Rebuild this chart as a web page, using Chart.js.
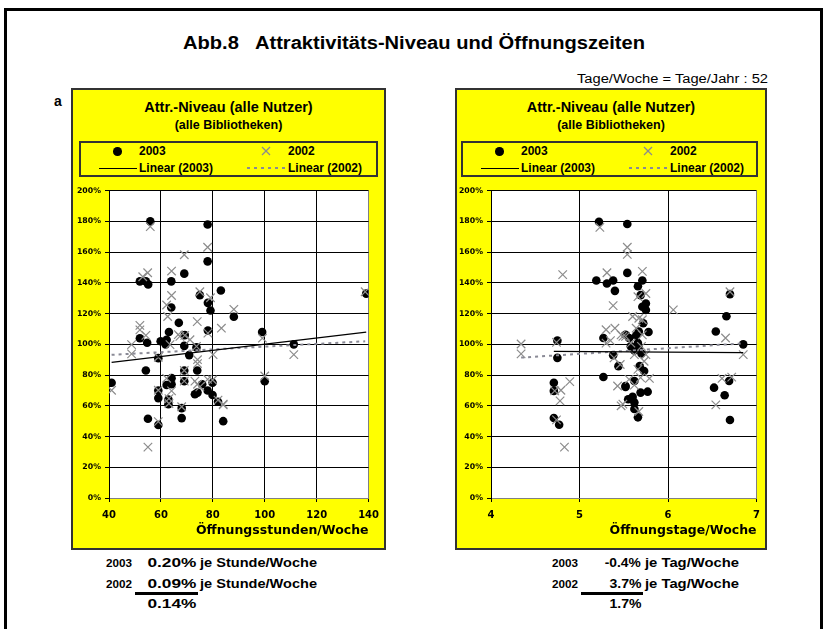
<!DOCTYPE html>
<html>
<head>
<meta charset="utf-8">
<script src="https://cdn.jsdelivr.net/npm/chart.js@4.4.1/dist/chart.umd.min.js"></script>
<style>
  body { margin:0; width:827px; height:629px; overflow:hidden; background:#fff; position:relative;
         font-family:'Liberation Sans', Arial, sans-serif; }
  .frame { position:absolute; left:4px; top:8px; width:819px; height:700px; border:3px solid #000;
           border-bottom:none; box-sizing:border-box; }
  .panel { position:absolute; top:88px; height:462px; background:#ffff00; border:2px solid #333; box-sizing:border-box; }
  canvas { position:absolute; }
  .t { position:absolute; white-space:pre; line-height:1; color:#000; }
</style>
</head>
<body>
<div class="frame"></div>
<div class="panel" style="left:71px;width:315px;"></div>
<div class="panel" style="left:455px;width:312px;"></div>
<canvas id="hoursChart" width="312" height="362" style="left:74px;top:182px;"></canvas>
<canvas id="daysChart" width="311" height="362" style="left:456px;top:182px;"></canvas>

<script>
// ---- Attraktivitäts-Niveau je Bibliothek (in %) vs. Öffnungsstunden pro Woche ----
const hours2003 = [55.9, 78, 78, 69, 51.9, 54.2, 55.1, 64, 83.1, 75, 78.1, 79.1, 64, 66.9, 63.1, 69.2, 78.1,
  51.9, 54.7, 59.9, 62.2, 61.8, 69, 73.7, 41, 54.2, 70.9, 59, 62.2, 64.1, 64.1, 59, 59, 62.9, 62.9, 69, 69,
  74, 73.1, 74.1, 75.9, 78, 79.9, 79.9, 82, 84, 68, 68, 55, 59, 99, 100, 111.2, 139.1, 88.1];
const level2003h = [180, 178, 154, 146, 141, 141, 139, 141, 135, 132, 127, 122, 124, 114, 108, 106, 109,
  104, 101, 102, 103, 100, 99, 98, 75, 83, 93, 91, 73.5, 78, 74, 70, 65, 64, 61, 83, 76,
  83, 67.5, 68.6, 74, 70, 75, 67, 62.6, 50, 52, 58.5, 51.6, 47.5, 108, 76, 100, 133, 118];

const hours2002 = [55.9, 78, 69, 54.9, 53, 64.1, 64.1, 75, 79.1, 62.2, 62.6, 74, 83.3, 51.9, 51.9, 54.2, 48.7,
  67.3, 69.2, 78.1, 71.2, 63.5, 73.7, 88.1, 99.1, 138.7, 111.2, 100, 84, 41, 48.7, 55, 59, 59, 59, 62.2,
  63.1, 63.1, 64.1, 69, 69, 68, 73.1, 74.1, 75, 74.1, 74.1, 78, 80.1, 79.9, 84, 82, 66.7];
const level2002h = [176.6, 163.2, 158.3, 146.6, 144, 147.7, 131.8, 134.2, 130.3, 125.6, 118.1, 114.8, 110.5,
  112.3, 109.4, 105.8, 99.8, 105.2, 105.8, 107.3, 103, 99.8, 98.7, 122.8, 104, 134.2, 93.3, 79.4, 60.6,
  70.1, 93.8, 33.1, 91.6, 70.1, 49.7, 77.9, 64.7, 61.5, 69.7, 83, 76.1, 59.4, 76.1, 74, 72.3, 87.5, 90,
  77.2, 93.3, 76.8, 61.1, 63.7, 106.3];

// ---- Attraktivitäts-Niveau vs. Öffnungstage pro Woche ----
const days2003 = [5.22, 5.54, 5.19, 5.31, 5.38, 5.40, 5.54, 4.75, 5.27, 4.75, 4.71, 4.71, 4.71, 4.77, 5.38,
  5.44, 5.27, 5.52, 5.55, 5.71, 5.66, 5.69, 5.75, 5.71, 5.75, 5.72, 5.78, 5.67, 5.64, 5.56, 5.66, 5.58,
  5.67, 5.52, 5.68, 5.73, 5.62, 5.52, 5.77, 5.69, 5.60, 5.62, 5.62, 5.66, 6.70, 6.66, 6.54, 6.85, 6.69,
  6.52, 6.64, 6.70, 5.62, 5.70];
const level2003d = [179.8, 178.3, 141.5, 139.6, 141.5, 134.8, 146.5, 102.4, 104.1, 91.2, 75, 69.7, 52.1, 47.7,
  92.9, 85.8, 78.7, 72.3, 64.3, 141.5, 137.8, 132, 126.6, 124.5, 122.4, 113.7, 108, 108.4, 105.8, 104.1,
  100.8, 98.7, 97.6, 106.2, 85.8, 82.6, 76.1, 72.9, 69.2, 68.6, 65.8, 62.2, 57.9, 52.5, 132.7, 118.3,
  108.4, 100, 76.1, 71.8, 66.9, 50.8, 96, 94];

const days2002 = [5.23, 4.81, 5.31, 5.38, 5.54, 5.54, 5.30, 5.40, 5.49, 4.34, 4.34, 4.74, 4.89, 4.72, 4.79,
  4.78, 4.74, 4.83, 5.30, 5.35, 5.46, 5.39, 5.43, 5.47, 5.47, 5.71, 5.75, 5.66, 6.06, 5.60, 5.67, 5.71,
  5.64, 5.71, 5.52, 5.58, 5.70, 5.75, 5.62, 6.65, 6.70, 6.85, 6.61, 6.72, 6.54, 5.56, 5.69, 5.79, 5.62,
  5.49, 5.67, 5.73, 5.66];
const level2002d = [176.1, 145.4, 146.6, 125.2, 163.2, 158.5, 109.5, 110.5, 105.2, 100.2, 93.8, 101.3, 75.7,
  69.7, 70.1, 63.2, 50.8, 33.1, 100.8, 102.4, 86.9, 91.2, 72.9, 60, 106.2, 147.5, 133.1, 131, 122.4, 118.1,
  117, 116, 110.5, 106.2, 105.2, 100.8, 98.7, 93.3, 93.3, 104.1, 134.2, 93.3, 77.8, 78.7, 60.6, 77.2, 78.3,
  77.8, 73.5, 61.1, 56.3, 89, 83.7];

// ---- lineare Trends: Steigung (%-Punkte je Einheit) und Achsenabschnitt ----
const years = ['2003', '2002'];
const slopeHours = [0.20, 0.09];
const interceptHours = [80.1, 89.5];
const meanSlopeHours = 0.14;
const slopeDays = [-0.4, 3.7];
const interceptDays = [97.3, 75.3];
const meanSlopeDays = 1.7;

const yTicksMax = 200, yTickStep = 20;

// ---------------------------------------------------------------------------
const TICK_FONT = "'DejaVu Sans'";
const ARIAL = "'Liberation Sans', Arial, sans-serif";

function pts(xs, ys) { return xs.map((x, i) => ({ x, y: ys[i] })); }
function trend(xs, slope, icpt) {
  const lo = Math.min(...xs), hi = Math.max(...xs);
  return [{ x: lo, y: icpt + slope * lo }, { x: hi, y: icpt + slope * hi }];
}

const plotBg = {
  id: 'plotBg',
  beforeDraw(chart) {
    const { ctx, chartArea: a } = chart;
    ctx.save();
    ctx.fillStyle = '#fff';
    ctx.fillRect(a.left, a.top, a.right - a.left, a.bottom - a.top);
    ctx.restore();
  }
};

function buildChart(id, o) {
  const datasets = [
    { label: 'Linear (2003)', data: trend(o.x03, o.slopes[0], o.icpts[0]), showLine: true, pointRadius: 0,
      borderColor: '#000', borderWidth: 1.3, order: 0 },
    { label: 'Linear (2002)', data: trend(o.x02, o.slopes[1], o.icpts[1]), showLine: true, pointRadius: 0,
      borderColor: '#8a8a96', borderWidth: 2, borderDash: [3, 4], order: 0 },
    { label: '2002', data: pts(o.x02, o.y02), pointStyle: 'crossRot', pointRadius: 6, pointBorderWidth: 1.2,
      borderColor: '#8c8c8c', backgroundColor: '#8c8c8c', order: 1 },
    { label: '2003', data: pts(o.x03, o.y03), pointStyle: 'circle', pointRadius: 4.3, pointBorderWidth: 0,
      borderColor: '#000', backgroundColor: '#000', order: 2 }
  ];
  return new Chart(document.getElementById(id), {
    type: 'scatter',
    data: { datasets },
    plugins: [plotBg],
    options: {
      responsive: false, animation: false, devicePixelRatio: 1,
      layout: { padding: { left: 0, right: o.padRight, top: 6, bottom: 0 } },
      plugins: { legend: { display: false }, tooltip: { enabled: false } },
      scales: {
        x: {
          type: 'linear', min: o.xMin, max: o.xMax,
          ticks: { stepSize: o.xStep, color: '#000', padding: 7, maxRotation: 0,
                   font: { family: TICK_FONT, weight: 'bold', size: 10 } },
          grid: { color: c => (c.tick && c.tick.value === o.xMax) ? '#808080' : '#000',
                  lineWidth: 1, tickLength: 4, tickColor: '#000' },
          border: { color: '#808080' },
          title: { display: true, text: o.xTitle, align: 'end', color: '#000',
                   font: { family: TICK_FONT, weight: 'bold', size: 12.5 }, padding: { top: 0, bottom: 6 } },
          afterFit(s) { s.height = 46; }
        },
        y: {
          min: 0, max: yTicksMax,
          ticks: { stepSize: yTickStep, color: '#000', padding: 4, callback: v => v + '%',
                   font: { family: TICK_FONT, weight: 'bold', size: 7.8 } },
          grid: { color: '#000', lineWidth: 1, tickLength: 4, tickColor: '#000' },
          border: { color: '#000' },
          afterFit(s) { s.width = 35; }
        }
      }
    }
  });
}

buildChart('hoursChart', {
  x03: hours2003, y03: level2003h, x02: hours2002, y02: level2002h,
  slopes: slopeHours, icpts: interceptHours,
  xMin: 40, xMax: 140, xStep: 20, xTitle: 'Öffnungsstunden/Woche', padRight: 17
});
buildChart('daysChart', {
  x03: days2003, y03: level2003d, x02: days2002, y02: level2002d,
  slopes: slopeDays, icpts: interceptDays,
  xMin: 4, xMax: 7, xStep: 1, xTitle: 'Öffnungstage/Woche', padRight: 9
});

// ---- Texte ----
function label(text, o) {
  const el = document.createElement('div');
  el.className = 't';
  el.textContent = text;
  el.style.font = `${o.bold ? 'bold' : 'normal'} ${o.size}px ${ARIAL}`;
  el.style.top = o.cy + 'px';
  document.body.appendChild(el);
  const natural = el.getBoundingClientRect().width;
  const sx = o.w ? o.w / natural : 1;
  const align = o.align || 'left';
  if (align === 'left') {
    el.style.left = o.x + 'px';
    el.style.transformOrigin = '0 50%';
  } else if (align === 'right') {
    el.style.left = (o.x - natural) + 'px';
    el.style.transformOrigin = '100% 50%';
  } else {
    el.style.left = (o.x - natural / 2) + 'px';
    el.style.transformOrigin = '50% 50%';
  }
  el.style.transform = `translateY(-50%) scaleX(${sx})`;
  return el;
}
function box(o) {
  const el = document.createElement('div');
  el.style.cssText = `position:absolute;left:${o.x}px;top:${o.y}px;width:${o.w}px;height:${o.h}px;` + (o.css || '');
  document.body.appendChild(el);
  return el;
}
function svgAt(x, y, w, h, inner) {
  const sv = document.createElementNS('http://www.w3.org/2000/svg', 'svg');
  sv.setAttribute('width', w); sv.setAttribute('height', h);
  sv.style.cssText = `position:absolute;left:${x}px;top:${y}px;`;
  sv.innerHTML = inner;
  document.body.appendChild(sv);
}

label('Abb.8   Attraktivitäts-Niveau und Öffnungszeiten', { x: 183, w: 462, cy: 43, size: 18, bold: true });
label('Tage/Woche = Tage/Jahr : 52', { x: 577, w: 191, cy: 78.5, size: 12.5 });
label('a', { x: 54, cy: 101, size: 14, bold: true });

// Kopf und Legende je Panel
[{ cx: 228.5, bx: 79, bw: 299 }, { cx: 611, bx: 461, bw: 297 }].forEach(p => {
  label('Attr.-Niveau (alle Nutzer)', { x: p.cx, cy: 107, size: 14.5, bold: true, align: 'center' });
  label('(alle Bibliotheken)', { x: p.cx, cy: 125, size: 12.5, bold: true, align: 'center' });
  box({ x: p.bx, y: 141, w: p.bw, h: 36, css: 'border:2px solid #333;box-sizing:border-box;' });
  // Punkt 2003
  box({ x: p.bx + 34, y: 147, w: 8.6, h: 8.6, css: 'background:#000;border-radius:50%;' });
  label(years[0], { x: p.bx + 60, cy: 151, size: 12, bold: true });
  // Kreuz 2002
  svgAt(p.bx + 182, 146, 10, 10,
    '<line x1="1" y1="1" x2="9" y2="9" stroke="#8c8c8c" stroke-width="1.2"/>' +
    '<line x1="9" y1="1" x2="1" y2="9" stroke="#8c8c8c" stroke-width="1.2"/>');
  label(years[1], { x: p.bx + 209, cy: 151, size: 12, bold: true });
  // Trendlinien
  box({ x: p.bx + 20, y: 167.5, w: 38, h: 0, css: 'border-top:1.3px solid #000;' });
  label('Linear (' + years[0] + ')', { x: p.bx + 60, cy: 168, size: 12, bold: true });
  svgAt(p.bx + 168, 166, 41, 4,
    '<line x1="0" y1="2" x2="41" y2="2" stroke="#8a8a96" stroke-width="2" stroke-dasharray="3 4"/>');
  label('Linear (' + years[1] + ')', { x: p.bx + 209, cy: 168, size: 12, bold: true });
});

// Steigungen unter den Diagrammen
function slopeBlock(o) {
  [563, 584].forEach((cy, i) => {
    label(years[i], { x: o.yearX, w: 26, cy, size: 10.5, bold: true });
    const txt = o.slopes[i].toFixed(o.digits) + '%';
    label(txt, { x: o.numRight, w: o.numW(txt), cy, size: 12.5, bold: true, align: 'right' });
    label(o.unit, { x: o.numRight + 4, w: o.unitW, cy, size: 12.5, bold: true });
  });
  box({ x: o.lineX, y: 592, w: o.numRight + 2 - o.lineX, h: 2.5, css: 'background:#000;' });
  const m = o.mean.toFixed(o.digits) + '%';
  label(m, { x: o.numRight, w: o.numW(m), cy: 604, size: 12.5, bold: true, align: 'right' });
}
slopeBlock({ slopes: slopeHours, mean: meanSlopeHours, digits: 2, unit: 'je Stunde/Woche',
  yearX: 106, numRight: 196, lineX: 135, unitW: 117, numW: () => 49 });
slopeBlock({ slopes: slopeDays, mean: meanSlopeDays, digits: 1, unit: 'je Tag/Woche',
  yearX: 552, numRight: 641, lineX: 581, unitW: 94, numW: t => t.startsWith('-') ? 36 : 32 });
</script>
</body>
</html>
